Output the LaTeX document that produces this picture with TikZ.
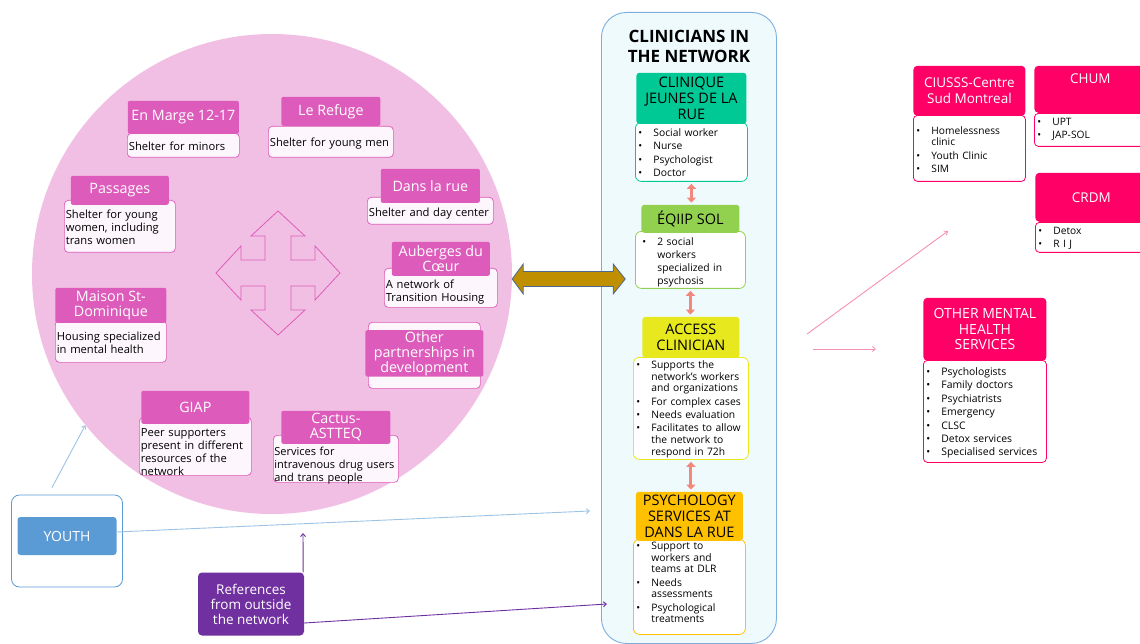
\documentclass[tikz,border=0pt]{standalone}
\usepackage{fontspec}
\setmainfont{Open Sans}
\usetikzlibrary{positioning,arrows.meta}

\definecolor{netpink}{HTML}{F2BFE4}
\definecolor{orgpink}{HTML}{DD5CBB}
\definecolor{orgback}{HTML}{FDF6FC}
\definecolor{clinfill}{HTML}{EFFAFC}
\definecolor{clinline}{HTML}{7EAEDF}
\definecolor{cjrgreen}{HTML}{00C995}
\definecolor{solgreen}{HTML}{92D050}
\definecolor{accyellow}{HTML}{E8E81E}
\definecolor{psyorange}{HTML}{FFC000}
\definecolor{hotpink}{HTML}{FF0066}
\definecolor{youthblue}{HTML}{5B9BD5}
\definecolor{youthline}{HTML}{9DC3E6}
\definecolor{refpurple}{HTML}{7030A0}
\definecolor{goldarr}{HTML}{BF8F00}
\definecolor{goldline}{HTML}{4A6A94}
\definecolor{salmon}{HTML}{F4877C}
\definecolor{linkpink}{HTML}{F590B5}

\newcommand{\bul}{\makebox[15pt][l]{\textbullet}}
\newcommand{\ind}{\hspace*{15pt}}

\begin{document}
\begin{tikzpicture}[x=1pt,y=-1pt,
    orgbody/.style={draw=orgpink,fill=orgback,line width=0.7pt,rounded corners=4pt,
      anchor=north west,align=left,inner xsep=1.5pt,inner ysep=0pt,
      font=\fontsize{11.2}{13}\selectfont},
    orgtitle/.style={fill=orgpink,text=white,rounded corners=2pt,align=center,
      inner sep=1pt,font=\fontsize{14.3}{15}\selectfont},
    clinbody/.style={draw=#1,fill=white,line width=0.8pt,rounded corners=6pt,
      anchor=north west,align=left,inner xsep=3pt,inner ysep=0pt,
      font=\fontsize{10.3}{11.7}\selectfont},
    clintitle/.style={fill=#1,rounded corners=3pt,align=center,inner sep=1pt,
      font=\fontsize{14.5}{15.7}\selectfont},
    hosptitle/.style={fill=hotpink,text=white,rounded corners=4pt,align=center,
      inner sep=1pt,minimum width=112pt,font=\fontsize{13.5}{15.5}\selectfont},
    hospbody/.style={draw=hotpink,fill=white,line width=0.8pt,rounded corners=4pt,
      anchor=north west,align=left,inner xsep=3pt,inner ysep=0pt,
      font=\fontsize{10.2}{11.6}\selectfont},
    linkarrow/.style={salmon,line width=3pt,shorten <=2pt,shorten >=2pt,
      {Triangle[width=9pt,length=5pt]}-{Triangle[width=9pt,length=5pt]}},
    youtharrow/.style={youthline,line width=0.9pt,-{Straight Barb[length=3pt,width=5pt]}},
    refarrow/.style={refpurple,line width=0.9pt,-{Straight Barb[length=3pt,width=5pt]}},
    pinkarrow/.style={linkpink,line width=0.9pt,-{Straight Barb[length=3pt,width=5pt]}},
    quadarrow/.style={draw=orgpink,line width=0.8pt,line cap=round},
    goldarrow/.style={fill=goldarr,draw=goldline,line width=0.8pt,line join=miter}
  ]
  \useasboundingbox (0,0) rectangle (1140,644);

  % the network
  \node[circle,fill=netpink,minimum size=480pt,inner sep=0pt] (net) at (272,274) {};
  \foreach \r in {0,90,180,270}
    \draw[quadarrow,shift={(278,273)},rotate=\r]
      (-13,-13) -- (-13,-37) -- (-27,-37) -- (0,-62) -- (27,-37) -- (13,-37) -- (13,-13);

  \node[orgbody,text width=109pt,text height=17pt,text depth=7pt] (marge) at (127,133) {Shelter for minors};
  \node[orgtitle,minimum width=111pt,minimum height=33pt,above=-1pt of marge] (margehead) {En Marge 12-17};

  \node[orgbody,text width=122pt,text height=20pt,text depth=11pt] (refuge) at (268,126) {Shelter for young men};
  \node[orgtitle,minimum width=99pt,minimum height=29pt,above=0pt of refuge] (refugehead) {Le Refuge};

  \node[orgbody,text width=108pt,text height=18pt,text depth=34pt] (passages) at (64,200) {Shelter for young\\women, including\\trans women};
  \node[orgtitle,minimum width=98pt,minimum height=29pt,above=-5pt of passages] (passageshead) {Passages};

  \node[orgbody,text width=123pt,text height=19pt,text depth=8pt] (dlr) at (367,197) {Shelter and day center};
  \node[orgtitle,minimum width=99pt,minimum height=34pt,above=-6pt of dlr] (dlrhead) {Dans la rue};

  \node[orgbody,text width=110pt,text height=20pt,text depth=19pt] (auberges) at (384,268) {A network of\\Transition Housing};
  \node[orgtitle,minimum width=98pt,minimum height=34pt,above=-8pt of auberges] (aubergeshead) {Auberges du\\Cœur};

  \node[orgbody,text width=108pt,text height=20pt,text depth=22pt] (maison) at (55,320) {Housing specialized\\in mental health};
  \node[orgtitle,minimum width=111pt,minimum height=35pt,above=-3pt of maison] (maisonhead) {Maison St-\\Dominique};

  \node[orgbody,text width=109pt,text height=19pt,text depth=39pt] (giap) at (139,417) {Peer supporters\\present in different\\resources of the\\network};
  \node[orgtitle,minimum width=108pt,minimum height=33pt,above=-7pt of giap] (giaphead) {GIAP};

  \node[orgbody,inner xsep=1pt,text width=123pt,text height=20pt,text depth=27pt,
    font=\fontsize{11}{13}\selectfont] (cactus) at (273,435) {Services for\\intravenous drug users\\and trans people};
  \node[orgtitle,minimum width=109pt,minimum height=33pt,above=-9pt of cactus] (cactushead) {Cactus-\\ASTTEQ};

  \node[orgbody,minimum width=112pt,minimum height=66pt] (other) at (368,322) {};
  \node[orgtitle,minimum width=118pt,minimum height=45pt] (otherhead) at ([yshift=2pt]other.center) {Other\\partnerships in\\development};

  % clinicians in the network
  \node[draw=clinline,fill=clinfill,line width=0.9pt,rounded corners=25pt,anchor=north west,
    minimum width=175pt,minimum height=631pt] (clin) at (601,12) {};
  \node[font=\bfseries\fontsize{17}{20}\selectfont,align=center] (clinhead) at ([yshift=-34pt]clin.north) {CLINICIANS IN\\THE NETWORK};

  \node[clinbody=cjrgreen,text width=106pt,text height=14pt,text depth=45pt] (cjr) at (635,122)
    {\bul Social worker\\[1.8pt]\bul Nurse\\[1.8pt]\bul Psychologist\\[1.8pt]\bul Doctor};
  \node[clintitle=cjrgreen,minimum width=110pt,minimum height=51pt,above=-2pt of cjr] (cjrhead) {CLINIQUE\\JEUNES DE LA\\RUE};

  \node[clinbody=solgreen,inner xsep=7pt,text width=96pt,text height=14pt,text depth=43pt,
    font=\fontsize{10.3}{13}\selectfont] (sol) at (635,231)
    {\bul 2 social\\\ind workers\\\ind specialized in\\\ind psychosis};
  \node[clintitle=solgreen,minimum width=98pt,minimum height=28pt,above=-2pt of sol] (solhead) {ÉQIIP SOL};

  \node[clinbody=accyellow,text width=109pt,text height=11pt,text depth=91pt] (access) at (633,357)
    {\bul Supports the\\\ind network’s workers\\\ind and organizations\\[1.6pt]\bul For complex cases\\[1.6pt]\bul Needs evaluation\\[1.6pt]\bul Facilitates to allow\\\ind the network to\\\ind respond in 72h};
  \node[clintitle=accyellow,minimum width=97pt,minimum height=41pt,above=-1pt of access] (accesshead) {ACCESS\\CLINICIAN};

  \node[clinbody=psyorange,text width=106pt,text height=10pt,text depth=85pt] (psy) at (633,539)
    {\bul Support to\\\ind workers and\\\ind teams at DLR\\[1.6pt]\bul Needs\\\ind assessments\\[1.6pt]\bul Psychological\\\ind treatments};
  \node[clintitle=psyorange,minimum width=107pt,minimum height=49pt,above=-2pt of psy] (psyhead) {PSYCHOLOGY\\SERVICES AT\\DANS LA RUE};

  \draw[linkarrow] (cjr.south) -- (cjr.south |- solhead.north);
  \draw[linkarrow] (sol.south) -- (sol.south |- accesshead.north);
  \draw[linkarrow] (access.south) -- (access.south |- psyhead.north);

  % network <-> clinicians
  \draw[goldarrow] ([yshift=-5pt]net.east) -- ++(11,-15) -- ++(0,7.5) -- ++(90,0) -- ++(0,-7.5)
    -- ++(12,15) -- ++(-12,15) -- ++(0,-7.5) -- ++(-90,0) -- ++(0,7.5) -- cycle;

  % hospital services
  \node[hospbody,text width=106pt,text height=19pt,text depth=47pt] (ciusss) at (913,115)
    {\bul Homelessness\\\ind clinic\\[1.8pt]\bul Youth Clinic\\[1.8pt]\bul SIM};
  \node[hosptitle,minimum height=50pt,above=-1pt of ciusss] (ciussshead) {CIUSSS-Centre\\Sud Montreal};

  \node[hospbody,text width=106pt,text height=12pt,text depth=21pt] (chum) at (1034,113)
    {\bul UPT\\[2pt]\bul JAP-SOL};
  \node[hosptitle,inner ysep=0pt,text height=18pt,text depth=29pt,above=0pt of chum] (chumhead) {CHUM};

  \node[hospbody,text width=106pt,text height=12pt,text depth=18pt] (crdm) at (1035,222)
    {\bul Detox\\[2pt]\bul R I J};
  \node[hosptitle,minimum height=49pt,above=0pt of crdm] (crdmhead) {CRDM};

  \node[hospbody,text width=117pt,text height=15pt,text depth=87pt,font=\fontsize{10.4}{13.4}\selectfont] (omhs) at (923,360)
    {\bul Psychologists\\\bul Family doctors\\\bul Psychiatrists\\\bul Emergency\\\bul CLSC\\\bul Detox services\\\bul Specialised services};
  \node[hosptitle,minimum width=123pt,minimum height=63pt,font=\fontsize{14}{15.5}\selectfont,above=-1pt of omhs] (omhshead) {OTHER MENTAL\\HEALTH\\SERVICES};

  \coordinate (hospfrom) at (807,334);
  \coordinate (hospto) at (948,231);
  \coordinate (omhsfrom) at (813,349);
  \coordinate (omhsto) at (876,349);
  \draw[pinkarrow] (hospfrom) -- (hospto);
  \draw[pinkarrow] (omhsfrom) -- (omhsto);

  % youth and outside references
  \node[draw=youthblue,fill=white,line width=0.8pt,rounded corners=8pt,minimum width=111pt,minimum height=92pt] (youthbox) at (67,541) {};
  \node[fill=youthblue,text=white,rounded corners=3pt,minimum width=99pt,minimum height=38pt,font=\fontsize{14}{16}\selectfont] (youth) at (67,536) {YOUTH};
  \node[fill=refpurple,text=white,rounded corners=4pt,minimum width=106pt,minimum height=63pt,align=center,font=\fontsize{13.5}{15}\selectfont] (refs) at (251,604) {References\\from outside\\the network};

  \coordinate (youthend) at (590,511);
  \coordinate (refsup) at (303,533);
  \coordinate (refsend) at (607,604);
  \draw[youtharrow] ([xshift=-15pt,yshift=7pt]youthbox.north) -- (net.219);
  \draw[youtharrow] ([yshift=4pt]youth.east) -- (youthend);
  \draw[refarrow] ([xshift=-1pt]refs.north east) -- (refsup);
  \draw[refarrow] ([yshift=-19pt]refs.east) -- (refsend);
\end{tikzpicture}
\end{document}
